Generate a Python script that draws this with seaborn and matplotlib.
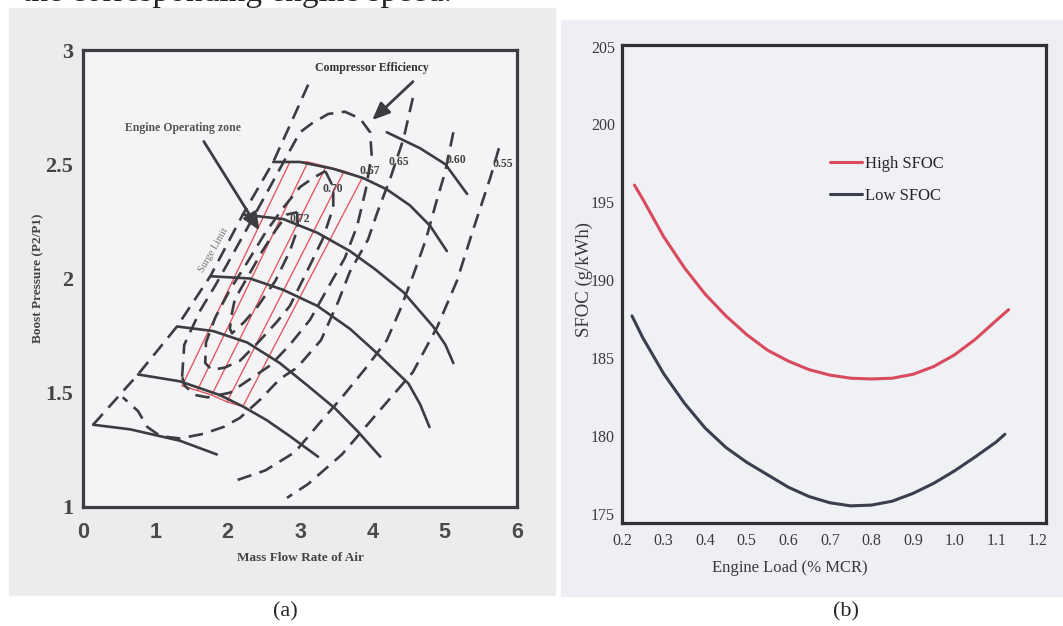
import numpy as np
import pandas as pd
import seaborn as sns
import matplotlib.pyplot as plt
from matplotlib.patches import Rectangle

# ---------- panel (a): compressor map ----------
# solid speed lines (mass flow rate, P2/P1)
speed0_x = [0.14, 0.65, 1.34, 1.85]
speed0_y = [1.36, 1.34, 1.29, 1.23]
speed1_x = [0.76, 1.34, 1.89, 2.21, 2.54, 2.86, 3.25]
speed1_y = [1.58, 1.55, 1.49, 1.44, 1.38, 1.31, 1.22]
speed2_x = [1.30, 1.80, 2.27, 2.72, 3.11, 3.49, 3.80, 4.11]
speed2_y = [1.79, 1.77, 1.72, 1.63, 1.53, 1.43, 1.33, 1.22]
speed3_x = [1.76, 2.31, 2.77, 3.24, 3.69, 4.04, 4.50, 4.66, 4.79]
speed3_y = [2.01, 2.00, 1.95, 1.88, 1.78, 1.68, 1.54, 1.45, 1.35]
speed4_x = [2.21, 2.77, 3.24, 3.69, 4.04, 4.43, 4.84, 5.01, 5.12]
speed4_y = [2.28, 2.26, 2.20, 2.12, 2.04, 1.94, 1.79, 1.71, 1.63]
speed5_x = [2.63, 3.00, 3.46, 3.87, 4.20, 4.52, 4.80, 5.03]
speed5_y = [2.51, 2.51, 2.48, 2.44, 2.39, 2.32, 2.23, 2.12]
speed6_x = [4.20, 4.66, 5.01, 5.31]
speed6_y = [2.64, 2.57, 2.50, 2.37]

# dashed lines: surge limit and efficiency islands
surge_x = [0.14, 0.76, 1.30, 1.76, 2.21, 2.63, 2.86, 3.13]
surge_y = [1.36, 1.58, 1.79, 2.01, 2.28, 2.51, 2.67, 2.86]
eff55_x = [5.75, 5.63, 5.39, 5.17, 4.90, 4.56, 4.04, 3.58, 3.11, 2.82]
eff55_y = [2.57, 2.44, 2.21, 1.99, 1.79, 1.59, 1.40, 1.23, 1.10, 1.04]
eff60_x = [5.12, 5.01, 4.88, 4.74, 4.56, 4.38, 4.20, 3.94, 3.58, 3.25, 2.93, 2.52, 2.06]
eff60_y = [2.64, 2.47, 2.33, 2.17, 2.01, 1.86, 1.73, 1.62, 1.48, 1.36, 1.24, 1.16, 1.11]
eff65_x = [4.56, 4.43, 4.25, 4.07, 3.94, 3.69, 3.53, 3.29, 2.96, 2.72, 2.45, 2.17,
           1.94, 1.66, 1.34, 1.07, 0.89, 0.76, 0.55]
eff65_y = [2.79, 2.61, 2.44, 2.29, 2.17, 2.03, 1.90, 1.73, 1.61, 1.56, 1.47, 1.39,
           1.35, 1.32, 1.30, 1.31, 1.35, 1.42, 1.48]
eff67_x = [1.37, 1.40, 1.62, 1.83, 2.06, 2.27, 2.48, 2.67, 2.86, 3.00, 3.17, 3.39,
           3.62, 3.83, 3.97, 3.99, 3.91, 3.79, 3.62, 3.37, 3.14, 2.86, 2.59, 2.31,
           2.03, 1.72, 1.55, 1.41, 1.37]
eff67_y = [1.57, 1.71, 1.86, 1.97, 2.10, 2.22, 2.34, 2.45, 2.56, 2.64, 2.68, 2.72,
           2.73, 2.70, 2.64, 2.54, 2.39, 2.23, 2.09, 1.95, 1.82, 1.71, 1.62, 1.56,
           1.50, 1.48, 1.49, 1.53, 1.57]
eff70_x = [3.35, 3.46, 3.46, 3.31, 3.11, 2.86, 2.68, 2.42, 2.17, 1.96, 1.78, 1.69,
           1.70, 1.83, 2.03, 2.27, 2.52, 2.77, 3.00, 3.18, 3.35]
eff70_y = [2.47, 2.40, 2.31, 2.17, 2.04, 1.88, 1.81, 1.72, 1.64, 1.61, 1.60, 1.63,
           1.72, 1.83, 1.95, 2.07, 2.20, 2.31, 2.40, 2.44, 2.47]
eff72_x = [2.96, 2.97, 2.86, 2.66, 2.42, 2.23, 2.06, 2.03, 2.06, 2.10, 2.30, 2.48,
           2.66, 2.82, 2.96]
eff72_y = [2.29, 2.22, 2.12, 1.99, 1.88, 1.81, 1.76, 1.78, 1.85, 1.91, 2.02, 2.12,
           2.21, 2.28, 2.29]

eff_labels = ['0.72', '0.70', '0.67', '0.65', '0.60', '0.55']
eff_label_x = [3.00, 3.46, 3.97, 4.36, 5.16, 5.80]
eff_label_y = [2.26, 2.39, 2.47, 2.51, 2.52, 2.50]

# engine operating zone (red hatch): ends of each hatch line
zone_bot_x = [1.37, 1.58, 1.78, 1.99, 2.21]
zone_bot_y = [1.53, 1.51, 1.49, 1.46, 1.44]
zone_top_x = [2.86, 3.11, 3.36, 3.61, 3.86]
zone_top_y = [2.51, 2.51, 2.49, 2.47, 2.44]

# ---------- panel (b): SFOC vs engine load ----------
high_load = [0.23, 0.25, 0.30, 0.35, 0.40, 0.45, 0.50, 0.55, 0.60, 0.65, 0.70,
             0.75, 0.80, 0.85, 0.90, 0.95, 1.00, 1.05, 1.10, 1.13]
high_sfoc = [196.1, 195.2, 192.8, 190.8, 189.1, 187.7, 186.5, 185.5, 184.8, 184.25,
             183.9, 183.7, 183.65, 183.7, 183.95, 184.45, 185.2, 186.2, 187.4, 188.1]
low_load = [0.224, 0.25, 0.30, 0.35, 0.40, 0.45, 0.50, 0.55, 0.60, 0.65, 0.70,
            0.75, 0.80, 0.85, 0.90, 0.95, 1.00, 1.05, 1.10, 1.121]
low_sfoc = [187.7, 186.3, 184.0, 182.1, 180.5, 179.25, 178.3, 177.5, 176.7, 176.1,
            175.7, 175.5, 175.55, 175.8, 176.3, 176.95, 177.75, 178.65, 179.6, 180.1]


def long_frame(curves):
    rows = []
    for name, xs, ys in curves:
        for x, y in zip(xs, ys):
            rows.append((name, x, y))
    return pd.DataFrame(rows, columns=['curve', 'x', 'y'])


sns.set_style('white')
plt.rcParams['font.family'] = ['Liberation Serif', 'DejaVu Serif']

W, H = 1063, 626
fig = plt.figure(figsize=(W / 100, H / 100), dpi=100)
fig.patch.set_facecolor('white')


def box(l, t, r, b):
    return [l / W, 1 - b / H, (r - l) / W, (b - t) / H]


# scanned paper backgrounds, kept behind the axes
fig.patches.append(Rectangle((9 / W, 1 - 595 / H), 546 / W, 587 / H,
                             transform=fig.transFigure, color='#ececef', zorder=-10))
fig.patches.append(Rectangle((561 / W, 1 - 596 / H), 502 / W, 576 / H,
                             transform=fig.transFigure, color='#edeff4', zorder=-10))

dark = '#3c3c41'

# ---------------- panel (a) ----------------
ax = fig.add_axes(box(83, 50, 517, 507))
ax.set_facecolor('#f4f4f6')

red = '#e25a64'
hatch = long_frame([(f'h{i}', [zone_bot_x[i], zone_top_x[i]], [zone_bot_y[i], zone_top_y[i]])
                    for i in range(len(zone_bot_x))]
                   + [('bot', zone_bot_x, zone_bot_y), ('top', zone_top_x, zone_top_y)])
sns.lineplot(data=hatch, x='x', y='y', units='curve', estimator=None, sort=False,
             color=red, lw=1.0, ax=ax)

dashed = long_frame([('surge', surge_x, surge_y), ('55', eff55_x, eff55_y),
                     ('60', eff60_x, eff60_y), ('65', eff65_x, eff65_y),
                     ('67', eff67_x, eff67_y), ('70', eff70_x, eff70_y),
                     ('72', eff72_x, eff72_y)])
sns.lineplot(data=dashed, x='x', y='y', units='curve', estimator=None, sort=False,
             color=dark, lw=1.9, linestyle=(0, (5.5, 3.2)), ax=ax)

speeds = long_frame([('s0', speed0_x, speed0_y), ('s1', speed1_x, speed1_y),
                     ('s2', speed2_x, speed2_y), ('s3', speed3_x, speed3_y),
                     ('s4', speed4_x, speed4_y), ('s5', speed5_x, speed5_y),
                     ('s6', speed6_x, speed6_y)])
sns.lineplot(data=speeds, x='x', y='y', units='curve', estimator=None, sort=False,
             color=dark, lw=1.9, ax=ax)

for lab, x, y in zip(eff_labels, eff_label_x, eff_label_y):
    ax.text(x, y, lab, fontsize=8.5, fontweight='bold', color='#444',
            ha='center', va='center')

ax.text(4.0, 2.92, 'Compressor Efficiency', fontsize=8.5, fontweight='bold',
        color='#333', ha='center', va='center')
ax.annotate('', xy=(3.97, 2.685), xytext=(4.59, 2.87),
            arrowprops=dict(arrowstyle='-|>,head_length=0.7,head_width=0.3',
                            mutation_scale=15, color=dark, lw=2))
ax.text(1.38, 2.66, 'Engine Operating zone', fontsize=8.5, fontweight='bold',
        color='#555', ha='center', va='center')
ax.annotate('', xy=(2.46, 2.20), xytext=(1.65, 2.61),
            arrowprops=dict(arrowstyle='-|>,head_length=0.7,head_width=0.3',
                            mutation_scale=15, color=dark, lw=2))
ax.text(1.80, 2.125, 'Surge Limit', fontsize=7.5, color='#777', rotation=60,
        ha='center', va='center')

ax.set_xlim(0, 6)
ax.set_ylim(1, 3)
ax.set_xticks(range(7))
ax.set_xticklabels([str(v) for v in range(7)], fontfamily='Liberation Sans',
                   fontweight='bold', fontsize=15.5, color='#4a4a4a')
ax.set_yticks([1, 1.5, 2, 2.5, 3])
ax.set_yticklabels(['1', '1.5', '2', '2.5', '3'], fontweight='bold', fontsize=16,
                   color='#444')
ax.tick_params(length=0)
ax.tick_params(axis='x', pad=11)
ax.tick_params(axis='y', pad=7)
ax.set_xlabel('Mass Flow Rate of Air', fontsize=9.5, fontweight='bold', color='#444')
ax.set_ylabel('Boost Pressure (P2/P1)', fontsize=9.5, fontweight='bold', color='#444')
ax.xaxis.set_label_coords(0.5, -0.112)
ax.xaxis.label.set_va('center')
ax.yaxis.set_label_coords(-0.104, 0.5)
ax.yaxis.label.set_va('center')
for s in ax.spines.values():
    s.set_visible(True)
    s.set_linewidth(2.3)
    s.set_color(dark)

# ---------------- panel (b) ----------------
bx = fig.add_axes(box(622, 45, 1046, 523))
bx.set_facecolor('#eff1f5')
sns.lineplot(x=high_load, y=high_sfoc, sort=False, estimator=None, color='#d84a5c',
             lw=2.2, label='High SFOC', ax=bx)
sns.lineplot(x=low_load, y=low_sfoc, sort=False, estimator=None, color='#3b3e4f',
             lw=2.2, label='Low SFOC', ax=bx)
bx.legend(loc='upper left', bbox_to_anchor=(0.474, 0.782), borderaxespad=0,
          frameon=False, fontsize=12, handlelength=1.95, handletextpad=0.15,
          labelspacing=0.95)

bx.set_xlim(0.2, 1.22)
bx.set_ylim(174.4, 205.1)
load_ticks = [0.2, 0.3, 0.4, 0.5, 0.6, 0.7, 0.8, 0.9, 1.0, 1.1, 1.2]
bx.set_xticks(load_ticks)
bx.set_xticklabels([f'{v:.1f}' for v in load_ticks], fontsize=11.5, color='#3a3a3a')
sfoc_ticks = [175, 180, 185, 190, 195, 200, 205]
bx.set_yticks(sfoc_ticks)
bx.set_yticklabels([str(v) for v in sfoc_ticks], fontsize=11.5, color='#3a3a3a')
bx.tick_params(length=0)
bx.tick_params(axis='x', pad=7)
bx.tick_params(axis='y', pad=5)
bx.set_xlabel('Engine Load (% MCR)', fontsize=12, color='#3a3a3a')
bx.set_ylabel('SFOC (g/kWh)', fontsize=13.5, color='#3a3a3a')
bx.xaxis.set_label_coords(0.396, -0.094)
bx.xaxis.label.set_va('center')
bx.yaxis.set_label_coords(-0.088, 0.51)
bx.yaxis.label.set_va('center')
for s in bx.spines.values():
    s.set_visible(True)
    s.set_linewidth(2.3)
    s.set_color('#2f2f35')

# captions and the cut-off line of document text above
fig.text(285 / W, 1 - 612 / H, '(a)', fontsize=16, ha='center', va='center')
fig.text(846 / W, 1 - 612 / H, '(b)', fontsize=16, ha='center', va='center')
fig.text(452 / W, 1 - 1.5 / H, 'the corresponding engine speed.', fontsize=24,
         ha='right', va='baseline')

fig.savefig('out.png', dpi=100)
